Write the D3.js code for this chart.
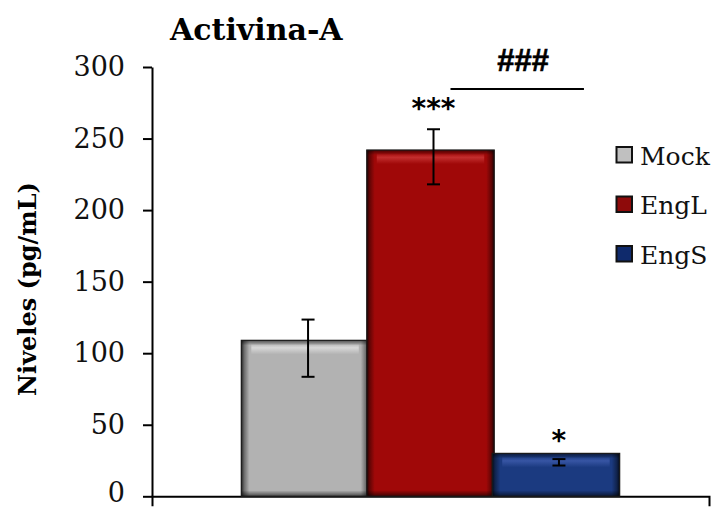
<!DOCTYPE html>
<html><head><meta charset="utf-8">
<script src="https://cdn.jsdelivr.net/npm/d3@7"></script>
<style>body{margin:0;background:#fff}svg{display:block}</style>
</head><body>
<script>
// ---- data ----
const categories = [""];
const series = ["Mock", "EngL", "EngS"];
const values = [109, 242, 30];
const errLow = [83.5, 218, 21.5];
const errHigh = [123.5, 256.5, 26];
const marks = ["", "***", "*"];
const yTicks = [0, 50, 100, 150, 200, 250, 300];
const title = "Activina-A";
const yLabel = "Niveles (pg/mL)";
const bracketLabel = "###";

const barColors = {Mock: "#b2b2b2", EngL: "#a00808", EngS: "#1b3a80"};
const hiColors = {Mock: "#dcdcdc", EngL: "#c63232", EngS: "#3a58a8"};
const legendColors = {Mock: "#c0c0c0", EngL: "#8e0a0a", EngS: "#0f2a6c"};

const W = 715, H = 507;
const svg = d3.select("body").append("svg").attr("width", W).attr("height", H);

const y = d3.scaleLinear().domain([0, 300]).range([496.3, 67]);
const xGroup = d3.scaleBand().domain(categories).range([152, 709]).paddingOuter(0.24);
const xSeries = d3.scaleBand().domain(series).range([0, xGroup.bandwidth()]);

// gradients
const defs = svg.append("defs");
function grad(id, x1, y1, x2, y2, stops) {
  const g = defs.append("linearGradient").attr("id", id)
    .attr("x1", x1).attr("y1", y1).attr("x2", x2).attr("y2", y2);
  stops.forEach(s => g.append("stop").attr("offset", s[0]).attr("stop-color", s[1]).attr("stop-opacity", s[2]));
}
grad("gl", 0, 0, 1, 0, [[0, "#000", 0.8], [0.35, "#000", 0.4], [1, "#000", 0]]);
grad("gr", 1, 0, 0, 0, [[0, "#000", 0.8], [0.35, "#000", 0.4], [1, "#000", 0]]);
grad("gb", 0, 1, 0, 0, [[0, "#000", 0.6], [1, "#000", 0]]);
grad("gt", 0, 0, 0, 1, [[0, "#000", 0.55], [1, "#000", 0]]);
series.forEach(s => {
  grad("hi" + s, 0, 0, 0, 1, [[0, hiColors[s], 0], [0.4, hiColors[s], 0.9], [1, hiColors[s], 0]]);
});

// axes
const yAxis = d3.axisLeft(y).tickValues(yTicks).tickSize(9).tickSizeOuter(0).tickPadding(18);
const gy = svg.append("g").attr("transform", "translate(152,0)").call(yAxis);
gy.selectAll("path,line").attr("stroke", "#000").attr("stroke-width", 2);
gy.selectAll("text").attr("font-family", "DejaVu Serif").attr("font-size", 27).attr("fill", "#111");
gy.selectAll(".tick").filter(d => d === 0).select("text").attr("dy", "0.2em");

const xAxis = d3.axisBottom(xGroup).tickValues([]).tickSizeOuter(10);
const gx = svg.append("g").attr("transform", "translate(0,496.3)").call(xAxis);
gx.selectAll("path").attr("stroke", "#000").attr("stroke-width", 2);

// bars
const gBars = svg.append("g").attr("transform", `translate(${xGroup("")},0)`);
const bw = xSeries.bandwidth() + 2;
series.forEach((s, i) => {
  const x0 = xSeries(s) - 1, y0 = y(values[i]), h = y(0) - y(values[i]);
  const g = gBars.append("g");
  g.append("rect").attr("x", x0).attr("y", y0).attr("width", bw).attr("height", h).attr("fill", barColors[s]);
  g.append("rect").attr("x", x0 + 10).attr("y", y0 + 3).attr("width", bw - 20).attr("height", 11).attr("fill", `url(#hi${s})`);
  g.append("rect").attr("x", x0).attr("y", y0).attr("width", bw).attr("height", 5).attr("fill", "url(#gt)");
  g.append("rect").attr("x", x0).attr("y", y0 + h - 6).attr("width", bw).attr("height", 6).attr("fill", "url(#gb)");
  g.append("rect").attr("x", x0).attr("y", y0).attr("width", 8).attr("height", h).attr("fill", "url(#gl)");
  g.append("rect").attr("x", x0 + bw - 8).attr("y", y0).attr("width", 8).attr("height", h).attr("fill", "url(#gr)");
  g.append("rect").attr("x", x0).attr("y", y0).attr("width", bw).attr("height", h)
    .attr("fill", "none").attr("stroke", "#1a1a1a").attr("stroke-width", 1.2);
});

// error bars
const errOffset = 3;
series.forEach((s, i) => {
  const cx = xGroup("") + xSeries(s) + xSeries.bandwidth() / 2 + errOffset;
  const g = svg.append("g").attr("stroke", "#000").attr("stroke-width", 2);
  g.append("line").attr("x1", cx).attr("x2", cx).attr("y1", y(errHigh[i])).attr("y2", y(errLow[i]));
  [errHigh[i], errLow[i]].forEach(v => g.append("line").attr("x1", cx - 6.5).attr("x2", cx + 6.5).attr("y1", y(v)).attr("y2", y(v)));
  if (marks[i]) {
    svg.append("text").attr("x", cx).attr("y", y(errHigh[i]) - (s === "EngL" ? 11.5 : 9))
      .attr("text-anchor", "middle").attr("font-family", "DejaVu Sans").attr("font-weight", "bold")
      .attr("font-size", 28).text(marks[i]);
  }
});

// bracket ###
const bx1 = xGroup("") + xSeries("EngL") + xSeries.bandwidth() / 2 + 20;
const bx2 = xGroup("") + xSeries("EngS") + xSeries.bandwidth() / 2 + 28;
const byv = 89;
svg.append("line").attr("x1", bx1).attr("x2", bx2).attr("y1", byv).attr("y2", byv).attr("stroke", "#000").attr("stroke-width", 2);
svg.append("text").attr("x", (bx1 + bx2) / 2 + 6).attr("y", 71).attr("text-anchor", "middle")
  .attr("font-family", "Liberation Sans").attr("font-weight", "bold").attr("font-size", 31)
  .attr("stroke", "#000").attr("stroke-width", 0.6).text(bracketLabel);

// title
svg.append("text").attr("x", 170).attr("y", 40).attr("font-family", "DejaVu Serif").attr("font-weight", "bold")
  .attr("font-size", 30).attr("fill", "#000").text(title);

// y label
svg.append("text").attr("transform", "translate(36,289) rotate(-90)").attr("text-anchor", "middle")
  .attr("font-family", "DejaVu Serif").attr("font-weight", "bold").attr("font-size", 24).attr("fill", "#000").text(yLabel);

// legend
const lg = svg.append("g").attr("transform", "translate(616,0)");
series.forEach((s, i) => {
  const base = 164.5 + i * 49.5;
  lg.append("rect").attr("x", 0.5).attr("y", base - 17.5).attr("width", 15.5).attr("height", 15.5)
    .attr("fill", legendColors[s]).attr("stroke", "#111").attr("stroke-width", 2);
  lg.append("text").attr("x", 24).attr("y", base).attr("font-family", "DejaVu Serif").attr("font-size", 25)
    .attr("fill", "#111").text(s);
});
</script>
</body></html>
